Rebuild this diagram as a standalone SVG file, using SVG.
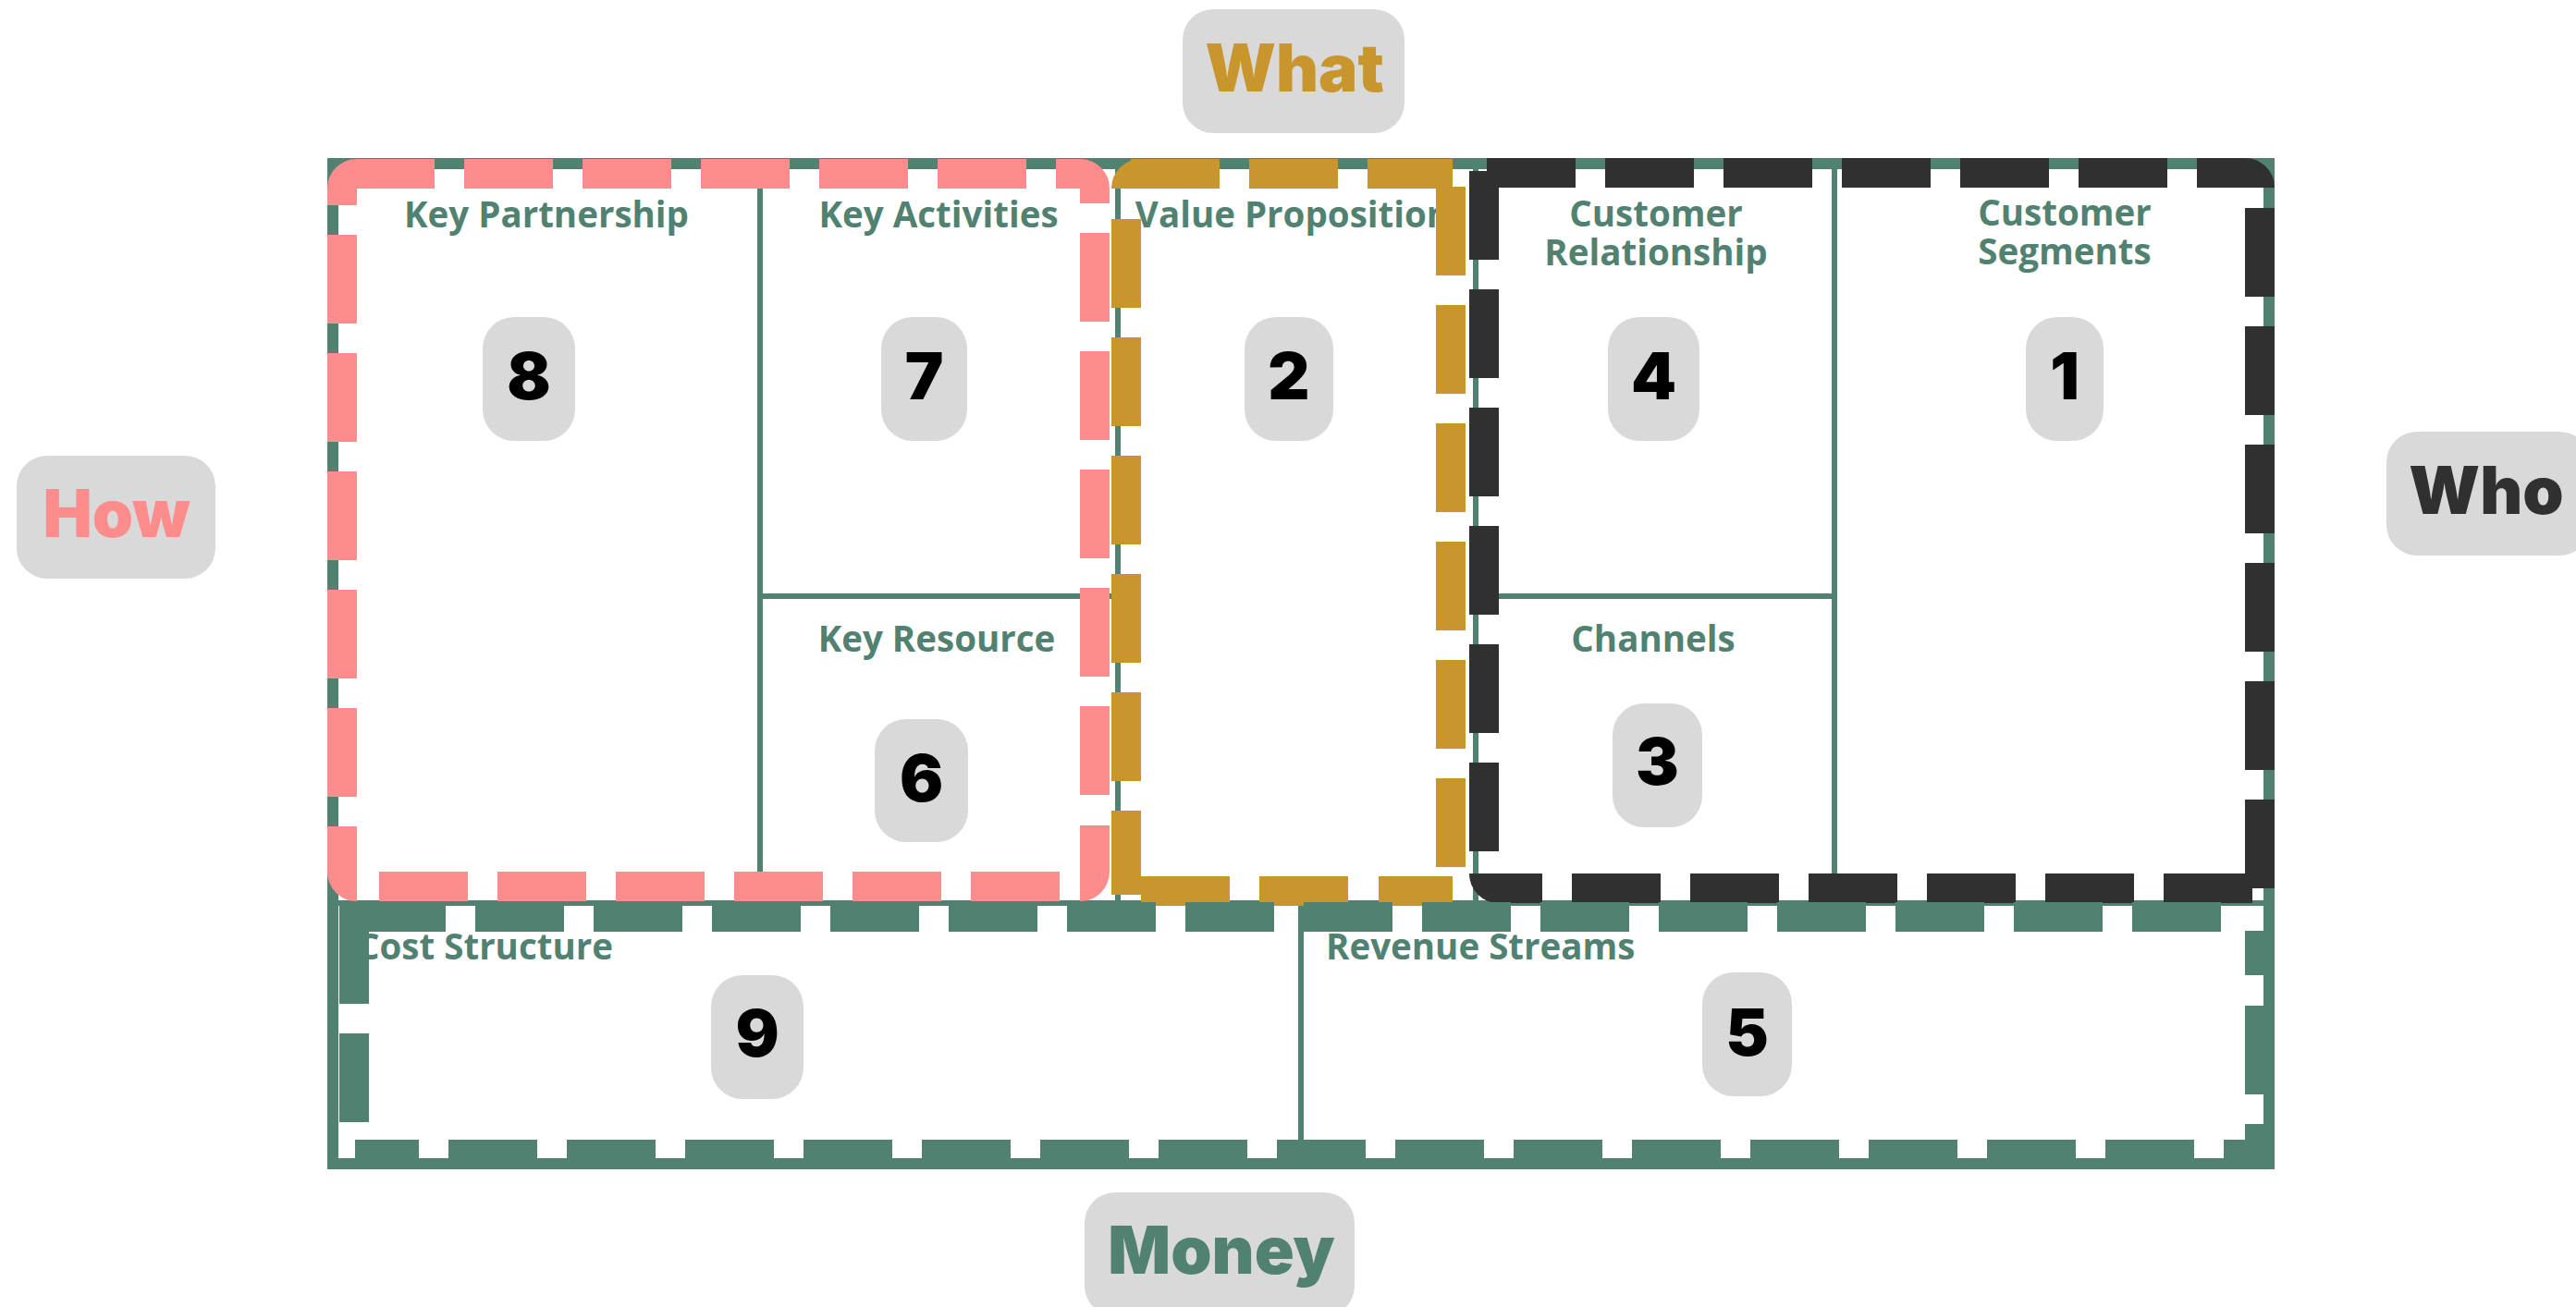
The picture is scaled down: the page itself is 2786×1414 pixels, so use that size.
<svg xmlns="http://www.w3.org/2000/svg" width="2786" height="1414" viewBox="0 0 2786 1414">
<style>
.bg{fill:#FFFFFF}
.grid{fill:none;stroke:#518271}
.outer{stroke-width:12}
.inner{stroke-width:6}
.fr{fill:none;stroke-width:32;stroke-linecap:butt}
.dash{stroke-dasharray:96 32}
.pink{stroke:#FF8C8C}
.gold{stroke:#C9962E}
.dark{stroke:#303030}
.green{stroke:#518271}
.pill{fill:#D9D9D9}
.lbl{font-family:"Open Sans","Liberation Sans",sans-serif;font-weight:700;font-size:38.5px;fill:#518271}
.mid{text-anchor:middle}
.num{font-family:Inter,"Open Sans","Liberation Sans",sans-serif;font-weight:900;font-size:70px;fill:#000000;text-anchor:middle}
.tag{font-family:Inter,"Open Sans","Liberation Sans",sans-serif;font-weight:900;font-size:71px;text-anchor:middle}
</style>
<rect class="bg" x="0" y="0" width="2786" height="1414"/>

<g id="grid">
  <rect class="grid outer" x="360" y="177" width="2094" height="1082"/>
  <line class="grid inner" x1="822" y1="177" x2="822" y2="977"/>
  <line class="grid inner" x1="1209" y1="177" x2="1209" y2="977"/>
  <line class="grid inner" x1="1596" y1="177" x2="1596" y2="977"/>
  <line class="grid inner" x1="1984" y1="177" x2="1984" y2="977"/>
  <line class="grid inner" x1="822" y1="645" x2="1209" y2="645"/>
  <line class="grid inner" x1="1596" y1="645" x2="1984" y2="645"/>
  <line class="grid inner" x1="360" y1="977" x2="2454" y2="977"/>
  <line class="grid inner" x1="1407" y1="977" x2="1407" y2="1259"/>
</g>

<g id="key-partnership">
  <text class="lbl mid" x="591" y="246">Key Partnership</text>
  <rect class="pill" x="522" y="343" width="100" height="134" rx="34"/>
  <text class="num" x="572" y="432">8</text>
</g>
<g id="key-activities">
  <text class="lbl mid" x="1015" y="246">Key Activities</text>
  <rect class="pill" x="953" y="343" width="93" height="134" rx="34"/>
  <text class="num" x="999.5" y="432">7</text>
</g>
<g id="key-resource">
  <text class="lbl mid" x="1013" y="705">Key Resource</text>
  <rect class="pill" x="946" y="778" width="101" height="133" rx="34"/>
  <text class="num" x="996.5" y="867">6</text>
</g>
<g id="value-proposition">
  <text class="lbl mid" x="1398" y="246">Value Proposition</text>
  <rect class="pill" x="1346" y="343" width="96" height="134" rx="34"/>
  <text class="num" x="1394" y="432">2</text>
</g>
<g id="customer-relationship">
  <text class="lbl mid" x="1791" y="245"><tspan x="1791">Customer</tspan><tspan x="1791" dy="42">Relationship</tspan></text>
  <rect class="pill" x="1739" y="343" width="99" height="134" rx="34"/>
  <text class="num" x="1788.5" y="432">4</text>
</g>
<g id="channels">
  <text class="lbl mid" x="1788" y="705">Channels</text>
  <rect class="pill" x="1744" y="761" width="97" height="134" rx="34"/>
  <text class="num" x="1792.5" y="849">3</text>
</g>
<g id="customer-segments">
  <text class="lbl mid" x="2233" y="244"><tspan x="2233">Customer</tspan><tspan x="2233" dy="42">Segments</tspan></text>
  <rect class="pill" x="2191" y="343" width="84" height="134" rx="34"/>
  <text class="num" x="2233" y="432">1</text>
</g>
<g id="cost-structure">
  <text class="lbl" x="386" y="1038">Cost Structure</text>
  <rect class="pill" x="769" y="1055" width="100" height="134" rx="34"/>
  <text class="num" x="819" y="1143">9</text>
</g>
<g id="revenue-streams">
  <text class="lbl" x="1434" y="1038">Revenue Streams</text>
  <rect class="pill" x="1841" y="1052" width="97" height="134" rx="34"/>
  <text class="num" x="1889.5" y="1142">5</text>
</g>

<g id="frames">
  <g id="frame-how">
    <path class="fr pink" d="M370,222 V204 A16,16 0 0 1 386,188 H470 M1142,188 H1168 A16,16 0 0 1 1184,204 V220 M1184,893 V943 A16,16 0 0 1 1168,959 M370,894 V943 A16,16 0 0 0 386,959"/>
    <path class="fr dash pink" d="M502,188 H1142 M370,254 V862 M1184,252 V860 M410,959 H1147"/>
  </g>
  <g id="frame-what">
    <path class="fr gold" d="M1218,204 A16,16 0 0 1 1234,188 H1240 M1218,877 V968 M1491,964 H1571"/>
    <path class="fr dash gold" d="M1223,188 H1571 M1218,237 V845 M1569,202 V938 M1234,964 H1459"/>
  </g>
  <g id="frame-who">
    <path class="fr dark" d="M2428,187 A16,16 0 0 1 2444,203 M1605,945 A16,16 0 0 0 1621,961 H1668"/>
    <path class="fr dash dark" d="M1608,187 H2428 M1605,185 V921 M2444,225 V961 M1700,961 H2436"/>
  </g>
  <g id="frame-money">
    <path class="fr green" d="M367,992 H482 M2444,1007 V1055 M384,1249 H453"/>
    <path class="fr dash green" d="M514,992 H2428 M383,990 V1233 M2444,1088 V1265 M485,1249 H2460"/>
  </g>
</g>

<g id="label-what">
  <rect class="pill" x="1279" y="10" width="240" height="134" rx="33"/>
  <text class="tag" x="1400" y="99" fill="#C9962E">What</text>
</g>
<g id="label-how">
  <rect class="pill" x="18" y="493" width="215" height="133" rx="33"/>
  <text class="tag" x="126" y="581" fill="#FF8C8C">How</text>
</g>
<g id="label-who">
  <rect class="pill" x="2581" y="467" width="220" height="134" rx="33"/>
  <text class="tag" x="2689" y="556" fill="#303030">Who</text>
</g>
<g id="label-money">
  <rect class="pill" x="1173" y="1290" width="292" height="134" rx="33"/>
  <text class="tag" x="1321" y="1378" fill="#518271">Money</text>
</g>
</svg>
